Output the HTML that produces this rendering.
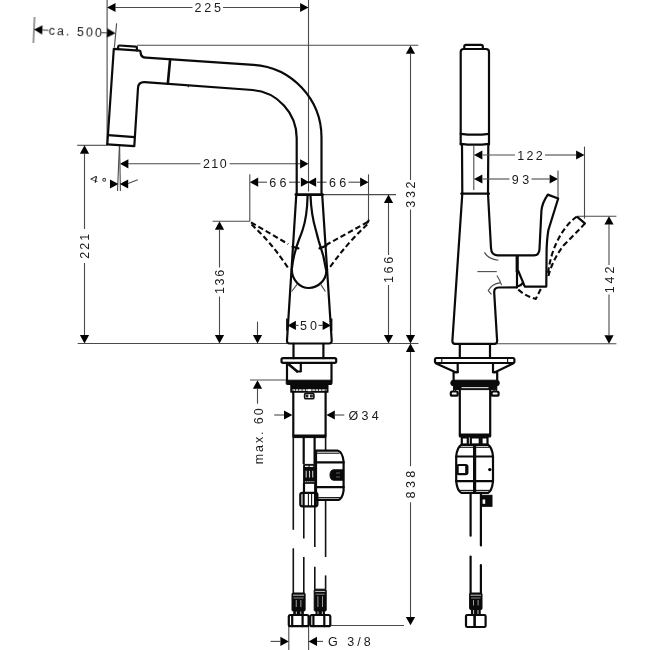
<!DOCTYPE html>
<html><head><meta charset="utf-8"><title>Drawing</title>
<style>
html,body{margin:0;padding:0;background:#fff}
svg{display:block}
.k{fill:none;stroke:#0a0a0a;stroke-width:2.2;stroke-linecap:round;stroke-linejoin:round}
.k3{fill:none;stroke:#0a0a0a;stroke-width:3.2}
.kk{fill:none;stroke:#0a0a0a;stroke-width:2.6;stroke-linecap:round;stroke-linejoin:round}
.k2{fill:none;stroke:#111;stroke-width:1.1}
.h{fill:none;stroke:#111;stroke-width:1.6}
.t{fill:none;stroke:#4a4a4a;stroke-width:1.1}
.g{fill:none;stroke:#777;stroke-width:0.8}
.d{fill:none;stroke:#0a0a0a;stroke-width:2.1;stroke-dasharray:5.5 3}
.a{fill:#000;stroke:none}
.f{fill:#0a0a0a;stroke:#0a0a0a;stroke-width:1}
.w{fill:none;stroke:#ddd;stroke-width:0.9}
.wf{fill:#fff;stroke:none}
text{font-family:"Liberation Sans","DejaVu Sans",sans-serif;font-size:12.5px;fill:#1a1a1a}
</style></head><body>
<svg width="650" height="650" viewBox="0 0 650 650">
<defs><filter id="gs" x="-5%" y="-5%" width="110%" height="110%"><feOffset dx="0" dy="0"/></filter></defs>
<rect class="wf" x="0" y="0" width="650" height="650"/>
<g filter="url(#gs)">
<line class="t" x1="107.1" y1="0" x2="107.1" y2="144" />
<line class="t" x1="308.5" y1="0" x2="308.5" y2="191.5" />
<polygon class="a" points="107.1,7.5 115.5,2.9 115.5,12.1"/>
<polygon class="a" points="308.5,7.5 300.1,2.9 300.1,12.1"/>
<line class="t" x1="115" y1="7.5" x2="192.5" y2="7.5" />
<line class="t" x1="223" y1="7.5" x2="300" y2="7.5" />
<text x="194.5" y="12" textLength="26.5" lengthAdjust="spacing">225</text>
<g transform="rotate(2.6 34 29.6)">
<line class="t" x1="34" y1="17" x2="34" y2="43" />
<polygon class="a" points="34,29.6 42.4,25.0 42.4,34.2"/>
<line class="t" x1="42" y1="29.6" x2="48.5" y2="29.6" />
<text x="48.8" y="34.1" textLength="53.2" lengthAdjust="spacing">ca. 500</text>
<line class="t" x1="101.5" y1="29.6" x2="108" y2="29.6" />
<polygon class="a" points="115.6,29.6 107.2,25.0 107.2,34.2"/>
</g>
<line class="t" x1="116.6" y1="23.4" x2="114.4" y2="47.5" />
<line class="t" x1="137" y1="45.3" x2="418.3" y2="45.3" />
<polygon class="a" points="120,163.8 128.4,159.2 128.4,168.4"/>
<polygon class="a" points="308.5,163.8 300.1,159.2 300.1,168.4"/>
<line class="t" x1="128" y1="163.8" x2="200.5" y2="163.8" />
<line class="t" x1="229.5" y1="163.8" x2="300" y2="163.8" />
<text x="202.9" y="168" textLength="23.8" lengthAdjust="spacing">210</text>
<line class="t" x1="77.2" y1="145.3" x2="106.8" y2="145.3" />
<polygon class="a" points="84.5,145.3 79.9,153.7 89.1,153.7"/>
<polygon class="a" points="84.5,343.5 79.9,335.1 89.1,335.1"/>
<line class="t" x1="84.5" y1="153" x2="84.5" y2="229" />
<line class="t" x1="84.5" y1="263" x2="84.5" y2="335" />
<text x="89" y="258.7" transform="rotate(-90 89 258.7)" textLength="24.9" lengthAdjust="spacing">221</text>
<line class="t" x1="119.4" y1="146" x2="117.5" y2="191" />
<line class="t" x1="119.6" y1="146" x2="120.4" y2="191" />
<polygon class="a" points="118.4,184 110.0,179.4 110.0,188.6"/>
<polygon class="a" points="119.8,184 128.2,179.4 128.2,188.6"/>
<line class="t" x1="128" y1="183.4" x2="137.8" y2="179.7" />
<text transform="translate(89.8,180.7) matrix(1.12,0.415,-0.156,0.76,0,0)" x="0" y="0">4</text>
<circle class="t" cx="104.2" cy="179.8" r="1.4"/>
<line class="t" x1="249.8" y1="174.3" x2="249.8" y2="221.3" />
<line class="t" x1="368.5" y1="174.3" x2="368.5" y2="221" />
<polygon class="a" points="249.8,182.2 258.2,177.6 258.2,186.8"/>
<polygon class="a" points="309.3,182.2 300.9,177.6 300.9,186.8"/>
<polygon class="a" points="307.7,182.2 316.1,177.6 316.1,186.8"/>
<polygon class="a" points="368.5,182.2 360.1,177.6 360.1,186.8"/>
<line class="t" x1="258" y1="182.2" x2="267" y2="182.2" />
<line class="t" x1="289" y1="182.2" x2="300" y2="182.2" />
<line class="t" x1="317" y1="182.2" x2="326.5" y2="182.2" />
<line class="t" x1="348.5" y1="182.2" x2="360" y2="182.2" />
<text x="269.3" y="186.7" textLength="17.2" lengthAdjust="spacing">66</text>
<text x="328.9" y="186.7" textLength="17.2" lengthAdjust="spacing">66</text>
<line class="t" x1="212.6" y1="221.3" x2="249.8" y2="221.3" />
<polygon class="a" points="219.5,221.3 214.9,229.7 224.1,229.7"/>
<polygon class="a" points="219.5,343.5 214.9,335.1 224.1,335.1"/>
<line class="t" x1="219.5" y1="229" x2="219.5" y2="267.5" />
<line class="t" x1="219.5" y1="296.5" x2="219.5" y2="335" />
<text x="224.1" y="294.1" transform="rotate(-90 224.1 294.1)" textLength="24.2" lengthAdjust="spacing">136</text>
<line class="t" x1="322.5" y1="194.6" x2="396" y2="194.6" />
<polygon class="a" points="388.5,194.6 383.9,203.0 393.1,203.0"/>
<polygon class="a" points="388.5,343.5 383.9,335.1 393.1,335.1"/>
<line class="t" x1="388.5" y1="203" x2="388.5" y2="255" />
<line class="t" x1="388.5" y1="285" x2="388.5" y2="335" />
<text x="392.9" y="283.0" transform="rotate(-90 392.9 283.0)" textLength="26.1" lengthAdjust="spacing">166</text>
<polygon class="a" points="410.5,45.4 405.9,53.8 415.1,53.8"/>
<polygon class="a" points="410.5,343.5 405.9,335.1 415.1,335.1"/>
<line class="t" x1="410.5" y1="53" x2="410.5" y2="180" />
<line class="t" x1="410.5" y1="209.5" x2="410.5" y2="335" />
<text x="415.3" y="207.7" transform="rotate(-90 415.3 207.7)" textLength="26.2" lengthAdjust="spacing">332</text>
<polygon class="a" points="410.5,343.5 405.9,351.9 415.1,351.9"/>
<polygon class="a" points="410.5,625.3 405.9,616.9 415.1,616.9"/>
<line class="t" x1="410.5" y1="352" x2="410.5" y2="466.2" />
<line class="t" x1="410.5" y1="502.3" x2="410.5" y2="617" />
<text x="415.3" y="498.4" transform="rotate(-90 415.3 498.4)" textLength="27.7" lengthAdjust="spacing">838</text>
<line class="t" x1="331" y1="625.5" x2="404" y2="625.5" />
<line class="t" x1="77.7" y1="343.5" x2="287" y2="343.5" />
<line class="t" x1="331.5" y1="343.5" x2="418.5" y2="343.5" />
<line class="t" x1="497" y1="343.7" x2="616.4" y2="343.7" />
<polygon class="a" points="257.5,343.5 252.9,335.1 262.1,335.1"/>
<line class="t" x1="257.5" y1="321.7" x2="257.5" y2="335" />
<polygon class="a" points="257.5,380.3 252.9,388.7 262.1,388.7"/>
<line class="t" x1="257.5" y1="388.5" x2="257.5" y2="403.7" />
<line class="t" x1="250" y1="380" x2="287" y2="380" />
<text x="263" y="464.2" transform="rotate(-90 263 464.2)" textLength="55.8" lengthAdjust="spacing">max. 60</text>
<line class="h" x1="286.9" y1="318.5" x2="286.9" y2="330.8" />
<line class="h" x1="331.6" y1="318.5" x2="331.6" y2="330.8" />
<polygon class="a" points="287.5,325.4 295.9,320.8 295.9,330.0"/>
<polygon class="a" points="331,325.4 322.6,320.8 322.6,330.0"/>
<line class="t" x1="295.5" y1="325.4" x2="298.5" y2="325.4" />
<line class="t" x1="318.5" y1="325.4" x2="323" y2="325.4" />
<text x="300.1" y="329.9" textLength="16.9" lengthAdjust="spacing">50</text>
<polygon class="a" points="292.4,415 284.0,410.4 284.0,419.6"/>
<line class="t" x1="274.2" y1="415" x2="284" y2="415" />
<polygon class="a" points="326.4,415 334.8,410.4 334.8,419.6"/>
<line class="t" x1="334.8" y1="415" x2="344.3" y2="415" />
<text x="348.5" y="419.5" textLength="30.3" lengthAdjust="spacing">&#216;34</text>
<line class="t" x1="288.8" y1="625.8" x2="288.8" y2="650" />
<line class="t" x1="308.6" y1="625.8" x2="308.6" y2="650" />
<polygon class="a" points="288.8,641.4 280.4,636.8 280.4,646.0"/>
<line class="t" x1="270.6" y1="641.4" x2="280.4" y2="641.4" />
<polygon class="a" points="308.6,641.4 317.0,636.8 317.0,646.0"/>
<line class="t" x1="317" y1="641.4" x2="323" y2="641.4" />
<text x="328.1" y="645.9" textLength="42.6" lengthAdjust="spacing">G 3/8</text>
<path class="k" d="M118,49.2 L118.2,46.6 Q118.3,45.4 119.6,45.5 L135.8,46.7 Q137,46.8 136.9,48 L136.8,50.4" />
<path class="k" d="M107.3,144.3 L113.8,48.8 L139.3,50.6 Q140.6,50.7 140.6,52 L140.7,53.5 Q141.2,57.4 146,57.7 L253.5,64.8 A72.8,72.8 0 0 1 321.5,137.5 L321.5,194.6" />
<path class="k" d="M107.3,144.3 L134.3,146.1 L138,88 Q138.3,82 144.5,82.2 L252.5,90 A48.2,48.2 0 0 1 296.7,138 L296.7,194.6" />
<line class="k" x1="108.2" y1="135.2" x2="134.8" y2="137.1" />
<line class="kk" x1="170.1" y1="59.6" x2="167.8" y2="83.8" />
<line class="k2" x1="188.3" y1="85.5" x2="188.2" y2="87.3" />
<line class="kk" x1="295.8" y1="194.6" x2="322.6" y2="194.6" />
<path class="k" d="M296.3,194.6 L287.0,340.5 Q286.9,343.5 289.5,343.5 L329,343.5 Q331.8,343.5 331.7,340.5 L322.2,194.6" />
<path class="k" d="M307.6,195.5 C307.3,208 306,220 302.6,230 C301.5,233.5 300.5,236 299.2,239 C295,250 292.5,262 291.8,269.5 C291.8,280 300,288 308.8,288 C318,288 326.3,280 326.3,271 C325,262 322,250 318.7,240.8 C317.5,237 316.8,233.5 315.8,230 C312.8,220 311,208 310.5,195.5" />
<line class="k" x1="292.5" y1="246.7" x2="298.4" y2="248.4" />
<line class="k" x1="319.5" y1="248.4" x2="326.3" y2="245.8" />
<line class="t" x1="297.5" y1="283.9" x2="291.6" y2="291.5" />
<line class="t" x1="320.4" y1="283.9" x2="325.4" y2="291.5" />
<path class="d" d="M251,222.3 L288.2,244.1" />
<path class="d" d="M251.5,224.5 Q272,243 289.1,269.5" />
<line class="k" x1="368.5" y1="220.6" x2="367.7" y2="222.4" />
<path class="d" d="M367.7,222 L326,245" />
<path class="d" d="M367.2,224.5 Q347,243 328.3,269.5" />
<line class="k" x1="293.5" y1="343.8" x2="293.5" y2="358.2" />
<line class="k" x1="323.4" y1="343.8" x2="323.4" y2="358.2" />
<rect class="k" x="281.5" y="358.2" width="54.7" height="4.6" rx="1.5" />
<line class="k" x1="287" y1="362.8" x2="287" y2="380.5" />
<line class="k" x1="331.5" y1="362.8" x2="331.5" y2="380.5" />
<path class="kk" d="M288,363.8 L297,371.3" />
<path class="k" d="M297,371.5 L300.8,371.5 L300.8,363.8" />
<rect class="f" x="286.2" y="380.2" width="45.8" height="4.3" rx="1" />
<rect class="f" x="290.8" y="384.5" width="37.2" height="7.7" rx="0" />
<line x1="292.5" y1="390.1" x2="326.5" y2="390.1" stroke="#d8d8d8" stroke-width="1.6" stroke-dasharray="2.6 0.7"/>
<rect class="h" x="304.6" y="393.4" width="9.3" height="5.4" rx="1.4" />
<rect class="k2" x="306.2" y="395.2" width="1.6" height="1.7" rx="0" />
<rect class="k2" x="310.6" y="395.2" width="1.6" height="1.7" rx="0" />
<rect class="wf" x="308" y="389.2" width="2.8" height="2.0" rx="0" />
<line class="k" x1="293.3" y1="391.5" x2="293.3" y2="436.5" />
<line class="k" x1="325.6" y1="391.5" x2="325.6" y2="436.5" />
<rect class="f" x="293.3" y="435" width="32.3" height="2.6" rx="0" />
<line class="h" x1="293.3" y1="437" x2="293.3" y2="529.8" />
<line class="h" x1="293.3" y1="548.3" x2="293.3" y2="593" />
<line class="h" x1="325.6" y1="437" x2="325.6" y2="450.7" />
<line class="h" x1="325.6" y1="500" x2="325.6" y2="557" />
<line class="h" x1="325.6" y1="575.4" x2="325.6" y2="589.2" />
<line class="k" x1="303.7" y1="437.5" x2="303.7" y2="463.5" />
<line class="k" x1="314.6" y1="437.5" x2="314.6" y2="463.5" />
<rect class="f" x="303.6" y="464.4" width="12.0" height="18.9" rx="0.8" />
<line x1="305" y1="466.3" x2="314.4" y2="466.3" stroke="#eee" stroke-width="1.3" stroke-dasharray="3.6 1"/>
<line x1="306.2" y1="470.8" x2="306.2" y2="477.6" stroke="#ccc" stroke-width="1.1"/>
<line x1="309.5" y1="470.8" x2="309.5" y2="477.6" stroke="#ccc" stroke-width="1.1"/>
<line x1="312.7" y1="470.8" x2="312.7" y2="477.6" stroke="#ccc" stroke-width="1.1"/>
<line x1="305" y1="481.6" x2="314.4" y2="481.6" stroke="#aaa" stroke-width="1.2" stroke-dasharray="1.4 0.7"/>
<line class="k" x1="304" y1="483.5" x2="304" y2="492.8" />
<line class="k" x1="315.2" y1="483.5" x2="315.2" y2="492.8" />
<rect class="k" x="300.3" y="492.8" width="17.1" height="13.5" rx="2" />
<line class="k" x1="303.6" y1="493" x2="303.6" y2="506" />
<line class="k2" x1="308.4" y1="493" x2="308.4" y2="506" />
<line class="k2" x1="311.6" y1="493" x2="311.6" y2="506" />
<line class="kk" x1="315.3" y1="493" x2="315.3" y2="506" />
<line class="h" x1="303.8" y1="506.3" x2="303.8" y2="538.5" />
<line class="h" x1="303.8" y1="557" x2="303.8" y2="593" />
<line class="h" x1="314.8" y1="506.3" x2="314.8" y2="547" />
<line class="h" x1="314.8" y1="566.8" x2="314.8" y2="589.2" />
<path class="k" d="M316,450.7 L338,450.7 Q342.6,452 343.6,461.6 L343.6,490.6 Q342.4,498.4 338.6,499.9 L316,499.9 Z" />
<line class="k2" x1="316" y1="453.2" x2="339.5" y2="453.2" />
<line class="k" x1="316" y1="462.4" x2="343.6" y2="462.4" />
<line class="k" x1="316" y1="487.2" x2="343.6" y2="487.2" />
<line class="k2" x1="316" y1="497.6" x2="340" y2="497.6" />
<path class="f" d="M343.3,469.8 L334,469.8 Q330,469.8 330,475 Q330,480.2 334,480.2 L343.3,480.2 Z" />
<line class="g" x1="336" y1="473" x2="340" y2="473" />
<line class="g" x1="336" y1="477" x2="340" y2="477" />
<rect class="f" x="292" y="593" width="13.1" height="18" rx="1" />
<line class="w" x1="293" y1="595.2" x2="304.1" y2="595.2" />
<line x1="293.5" y1="598" x2="303.6" y2="598" stroke="#999" stroke-width="0.9"/>
<line x1="296.25" y1="600" x2="296.25" y2="607" stroke="#aaa" stroke-width="0.9"/>
<line x1="300.85" y1="600" x2="300.85" y2="607" stroke="#aaa" stroke-width="0.9"/>
<rect class="f" x="293.8" y="611" width="9.5" height="4" rx="0" />
<line class="w" x1="296.35" y1="611.5" x2="296.35" y2="615" />
<line class="w" x1="300.75" y1="611.5" x2="300.75" y2="615" />
<rect class="k" x="288.8" y="615" width="19.8" height="11.2" rx="1.8" />
<line class="k" x1="292.2" y1="615" x2="292.2" y2="626.2" />
<line class="k" x1="302.6" y1="615" x2="302.6" y2="626.2" />
<rect class="f" x="314.2" y="589.2" width="12.0" height="21.8" rx="1" />
<line class="w" x1="315.2" y1="591.4000000000001" x2="325.2" y2="591.4000000000001" />
<line x1="315.7" y1="594.2" x2="324.7" y2="594.2" stroke="#999" stroke-width="0.9"/>
<line x1="317.9" y1="596.2" x2="317.9" y2="607" stroke="#aaa" stroke-width="0.9"/>
<line x1="322.5" y1="596.2" x2="322.5" y2="607" stroke="#aaa" stroke-width="0.9"/>
<rect class="f" x="316.0" y="611" width="8.4" height="4" rx="0" />
<line class="w" x1="318.0" y1="611.5" x2="318.0" y2="615" />
<line class="w" x1="322.4" y1="611.5" x2="322.4" y2="615" />
<rect class="k" x="310.2" y="615" width="20.1" height="11.2" rx="1.8" />
<line class="k" x1="313.4" y1="615" x2="313.4" y2="626.2" />
<line class="k" x1="324.3" y1="615" x2="324.3" y2="626.2" />
<path class="k" d="M464.3,49 L464.3,46.3 Q464.3,44.8 466,44.8 L481,44.8 Q482.8,44.8 482.8,46.3 L482.8,49" />
<path class="k" d="M460.7,144.5 L460.7,52 Q460.7,49 463.7,49 L486,49 Q489,49 489,52 L489,144.5" />
<path class="k" d="M460.7,133.8 Q474.8,135.6 489,133.8" />
<path class="k" d="M460.7,143.8 Q474.8,145.6 489,143.8" />
<line class="k" x1="462" y1="144.8" x2="462.3" y2="193.7" />
<line class="k" x1="488.3" y1="144.8" x2="488" y2="193.7" />
<line class="k" x1="461.3" y1="193.7" x2="489" y2="193.7" />
<line class="t" x1="473.8" y1="145.8" x2="473.8" y2="190" />
<polygon class="a" points="474,155 482.4,150.4 482.4,159.6"/>
<polygon class="a" points="584.5,155 576.1,150.4 576.1,159.6"/>
<line class="t" x1="482.4" y1="155" x2="515" y2="155" />
<line class="t" x1="545" y1="155" x2="576" y2="155" />
<text x="517.3" y="159.7" textLength="25.5" lengthAdjust="spacing">122</text>
<line class="t" x1="584.5" y1="146.6" x2="584.5" y2="218.6" />
<polygon class="a" points="474,179 482.4,174.4 482.4,183.6"/>
<polygon class="a" points="558,179 549.6,174.4 549.6,183.6"/>
<line class="t" x1="482.4" y1="179" x2="509.5" y2="179" />
<line class="t" x1="531.5" y1="179" x2="549.6" y2="179" />
<text x="511.8" y="183.5" textLength="17.5" lengthAdjust="spacing">93</text>
<line class="t" x1="558" y1="170.5" x2="558" y2="198" />
<line class="t" x1="577" y1="216.2" x2="616.4" y2="216.2" />
<polygon class="a" points="609,216.2 604.4,224.6 613.6,224.6"/>
<polygon class="a" points="609,343.7 604.4,335.3 613.6,335.3"/>
<line class="t" x1="609" y1="224" x2="609" y2="265" />
<line class="t" x1="609" y1="294.5" x2="609" y2="335" />
<text x="613.6" y="293.2" transform="rotate(-90 613.6 293.2)" textLength="26.6" lengthAdjust="spacing">142</text>
<path class="k" d="M462.3,193.7 L452.4,340.5 Q452.3,343.8 455,343.8 L494.5,343.8 Q497.3,343.8 497.1,340.5 L494.2,292.5 Q494,287.6 498.5,287.5 L517,287.3" />
<path class="k" d="M488,193.7 L491,248 Q491.4,255.3 497.5,255.3 L534,255.3 Q539.2,255.3 539.5,249 L541.4,211 Q542,203 547.8,194.6 L558.2,198.5 L548.4,230 Q547,238 546.6,250 L546.3,286.6 L524.8,286.6 L518.3,271" />
<line class="k3" x1="517.2" y1="256" x2="517.2" y2="272" />
<line class="k" x1="517" y1="272" x2="517" y2="287.3" />
<path class="k" d="M517.3,286.5 Q521.5,285.5 523,282.5" />
<path class="t" d="M484.4,252.4 Q488.5,259.5 498.4,260.2" />
<line class="t" x1="477.4" y1="271.6" x2="496.8" y2="271.6" />
<path class="t" d="M496.8,275.5 Q500,280 501.6,285.2" />
<path class="t" d="M491.4,294.4 L488.3,290.6 Q491.5,284 500.6,282.6" />
<path class="d" d="M576.8,216.6 Q565,225 557,241.7 Q550,256 547.8,274.9" />
<path class="d" d="M584.9,223.6 Q575,234 563.5,245.4 Q552.5,260 548.4,276" />
<line class="k" x1="577.5" y1="217.2" x2="584.9" y2="223.4" />
<path class="d" d="M518.3,289.6 Q526,296.5 535.8,298.9 L541.4,287.8" />
<line class="k" x1="459.8" y1="344" x2="459.8" y2="358" />
<line class="k" x1="490" y1="344" x2="490" y2="358" />
<rect class="k" x="435" y="358" width="79.4" height="5" rx="1.5" />
<path class="k" d="M436.2,363.6 L455.6,372.2 L457.7,372.2 L457.7,363.2" />
<path class="k" d="M457.7,372.2 L453.6,372.2 L453.6,380" />
<path class="k" d="M513,363.6 L495,372.2 L493,372.2 L493,363.2" />
<path class="k" d="M493,372.2 L497.2,372.2 L497.2,380" />
<line class="k2" x1="441.8" y1="358.6" x2="441.8" y2="362.8" />
<line class="k2" x1="507.6" y1="358.6" x2="507.6" y2="362.8" />
<rect class="f" x="450.8" y="380.2" width="48.5" height="5.6" rx="2.5" />
<rect class="f" x="454" y="385.8" width="42.8" height="3.8" rx="0" />
<line x1="461.5" y1="387.6" x2="488.5" y2="387.6" stroke="#ccc" stroke-width="1.2"/>
<line class="k2" x1="453.5" y1="386" x2="453.5" y2="391.5" />
<line class="k2" x1="455.5" y1="386" x2="455.5" y2="391.5" />
<line class="k2" x1="494" y1="386" x2="494" y2="391.5" />
<line class="k2" x1="496.3" y1="386" x2="496.3" y2="391.5" />
<rect class="k" x="450.8" y="391.5" width="6.9" height="4.2" rx="1.5" />
<rect class="k" x="491.6" y="391.5" width="7.0" height="4.2" rx="1.5" />
<line class="k" x1="459.8" y1="389.6" x2="459.8" y2="436" />
<line class="k" x1="490.2" y1="389.6" x2="490.2" y2="436" />
<rect class="f" x="459.8" y="434" width="30.4" height="3" rx="0" />
<rect class="k" x="461.8" y="437.5" width="6.0" height="7.0" rx="0" />
<rect class="k" x="470.8" y="437.5" width="9.0" height="7.0" rx="0" />
<rect class="k" x="481.5" y="437.5" width="6.0" height="7.0" rx="0" />
<path class="k" d="M461.5,444.8 L488,444.8 Q492,447 493,456.4 L493,481.4 Q492,491 488,492.9 L461.5,492.9 Q457.2,491 456.2,481.4 L456.2,456.4 Q457.2,447 461.5,444.8 Z" />
<line class="k2" x1="460" y1="447.3" x2="489.5" y2="447.3" />
<line class="k2" x1="460" y1="490.4" x2="489.5" y2="490.4" />
<line class="k" x1="456.2" y1="456.5" x2="493" y2="456.5" />
<line class="k" x1="456.2" y1="481.2" x2="493" y2="481.2" />
<line class="k3" x1="474.6" y1="445.5" x2="474.6" y2="492.3" />
<rect class="k" x="457.6" y="465" width="9.4" height="9.2" rx="1" />
<line class="k3" x1="466.8" y1="465.5" x2="466.8" y2="473.7" />
<circle class="a" cx="489.8" cy="469.6" r="1.7"/>
<line class="k" x1="470.6" y1="494" x2="470.6" y2="535.7" />
<line class="k" x1="470.6" y1="556.6" x2="470.6" y2="593" />
<line class="k" x1="480.9" y1="494" x2="480.9" y2="545.5" />
<line class="k" x1="480.9" y1="565.2" x2="480.9" y2="593" />
<rect class="f" x="481.3" y="495.3" width="10.7" height="11.0" rx="0" />
<rect class="wf" x="482.6" y="499.5" width="2.6" height="4.3" rx="0" />
<rect class="f" x="469.6" y="593" width="12.4" height="16.5" rx="1" />
<line class="w" x1="470.6" y1="595.2" x2="481" y2="595.2" />
<line x1="471.1" y1="598" x2="480.5" y2="598" stroke="#999" stroke-width="0.9"/>
<line x1="473.5" y1="600" x2="473.5" y2="605.5" stroke="#aaa" stroke-width="0.9"/>
<line x1="478.1" y1="600" x2="478.1" y2="605.5" stroke="#aaa" stroke-width="0.9"/>
<rect class="f" x="471.40000000000003" y="609.5" width="8.8" height="5.5" rx="0" />
<line class="w" x1="473.6" y1="610.0" x2="473.6" y2="615" />
<line class="w" x1="478.0" y1="610.0" x2="478.0" y2="615" />
<rect class="k" x="466" y="615" width="19.6" height="12" rx="1.2" />
<line class="kk" x1="474.6" y1="616.3" x2="474.6" y2="625.7" />
</g>
</svg>
</body></html>
